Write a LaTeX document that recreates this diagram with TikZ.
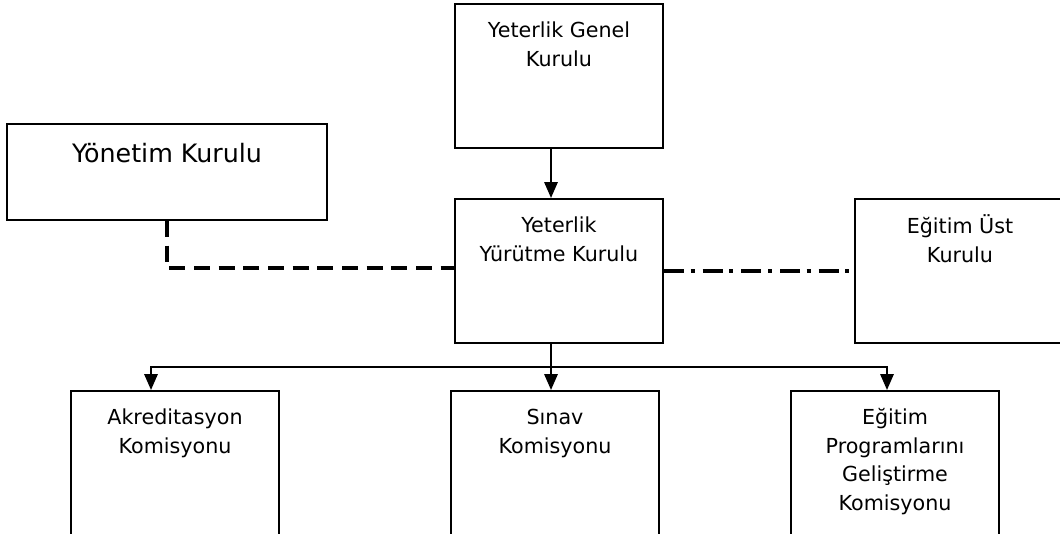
\documentclass[tikz,border=0pt]{standalone}
\usepackage{fontspec}
\setmainfont{DejaVu Sans}
\usetikzlibrary{positioning,calc,arrows.meta}

\begin{document}
\begin{tikzpicture}[x=0.75pt,y=-0.75pt]
  \tikzset{
    kutu/.style={draw=black, line width=1.5pt, inner sep=0pt},
    orta/.style={kutu, minimum width=156pt, minimum height=108pt},
    alt/.style={kutu, minimum width=156pt, minimum height=150pt},
    yazi/.style={font=\fontsize{15.5}{21.4}\selectfont, align=center, inner sep=0pt, anchor=base},
    ok/.style={-{Triangle[length=12pt,width=10pt]}, line width=1.6pt},
    kesik/.style={line width=2.4pt, dash pattern=on 12pt off 6.5pt},
    noktali/.style={line width=2.4pt, dash pattern=on 15pt off 5pt on 3pt off 6pt}
  }
  \useasboundingbox (0,0) rectangle (1060,533);
  \clip (0,0) rectangle (1060,533);

  % ----- kurullar -----
  \node[orta] (gen) at (559,76) {};
  \node[orta] (yur) at (559,271) {};
  \node[kutu, minimum width=240pt, minimum height=72pt] (yon) at (167,172) {};
  \node[kutu, minimum width=157.5pt, minimum height=108pt] (ust) at (960,271) {};

  % yazilar: son satirin tabani
  \node[yazi] (genyazi) at ($(gen.north)+(0,63)$) {Yeterlik Genel\\Kurulu};
  \node[yazi] (yuryazi) at ($(yur.north)+(0,63)$) {Yeterlik\\Yürütme Kurulu};
  \node[yazi, font=\fontsize{19}{23}\selectfont] (yonyazi) at ($(yon.north)+(0,39)$) {Yönetim Kurulu};
  \node[yazi] (ustyazi) at ($(ust.north)+(0,64)$) {Eğitim Üst\\Kurulu};

  % ----- komisyonlar -----
  \node[alt] (akr) at (175,491) {};
  \node[alt] (sin) at (555,491) {};
  \node[alt] (egp) at (895,491) {};

  \node[yazi] (akryazi) at ($(akr.north)+(0,63)$) {Akreditasyon\\Komisyonu};
  \node[yazi] (sinyazi) at ($(sin.north)+(0,63)$) {Sınav\\Komisyonu};
  \node[yazi] (egpyazi) at ($(egp.north)+(0,120.5)$) {Eğitim\\Programlarını\\Geliştirme\\Komisyonu};

  % ----- baglantilar -----
  \coordinate (dal) at (551,367);
  \draw[ok] (gen.south -| dal) -- (yur.north -| dal);
  \draw[ok] (yur.south -| dal) -- (sin.north -| dal);
  \draw[ok] (dal) -| ($(akr.north)+(-24,0)$);
  \draw[ok] (dal) -| ($(egp.north)+(-8,0)$);

  \draw[kesik] (yon.south) |- ($(yur.west)+(0,-3)$);
  \draw[noktali] (yur.east) -- (ust.west);
\end{tikzpicture}
\end{document}
